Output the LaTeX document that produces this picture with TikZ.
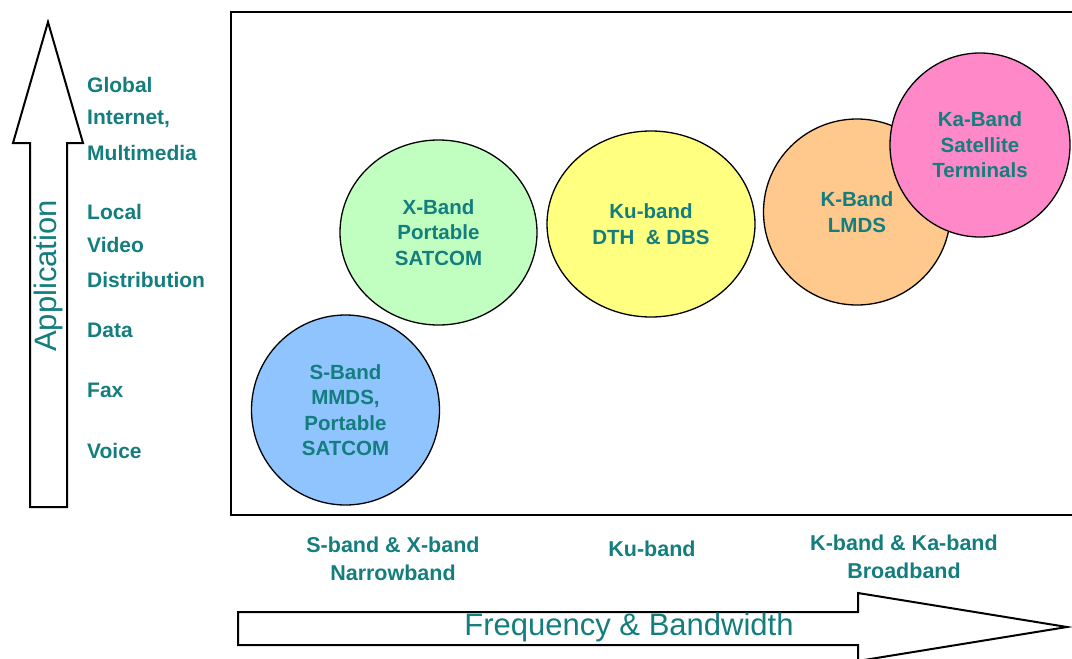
\documentclass[tikz,border=0pt]{standalone}
\usepackage{fontspec}
\setmainfont{Liberation Sans}
\usetikzlibrary{shapes.geometric}
\definecolor{tealtxt}{RGB}{20,125,125}
\definecolor{sblue}{RGB}{143,196,255}
\definecolor{xgreen}{RGB}{192,255,192}
\definecolor{kuyellow}{RGB}{255,255,128}
\definecolor{korange}{RGB}{255,200,140}
\definecolor{kapink}{RGB}{255,136,200}
\tikzset{
  band/.style={ellipse, draw=black, line width=1.3pt, inner sep=0pt, align=center,
    text=tealtxt, font=\fontsize{20.5}{25.5}\selectfont\bfseries},
  applbl/.style={anchor=west, text=tealtxt, font=\fontsize{21}{23}\selectfont\bfseries, inner sep=0pt},
  freqlbl/.style={align=center, text=tealtxt, font=\fontsize{21.5}{28}\selectfont\bfseries, inner sep=0pt},
  bigarrow/.style={draw=black, line width=2pt, fill=white, line join=miter},
  frameline/.style={draw=black, line width=2pt}
}
\begin{document}
\begin{tikzpicture}[x=1pt,y=-1pt]
\useasboundingbox (0,0) rectangle (1072,659);
% frame
\draw[frameline] (1075,12) -- (231,12) -- (231,515) -- (1075,515);
% up arrow
\draw[bigarrow] (30,507) -- (30,143) -- (13,143) -- (48,22) -- (83,143) -- (67,143) -- (67,507) -- cycle;
\node[rotate=90, text=tealtxt, font=\fontsize{31}{34}\selectfont, inner sep=0pt] (appl) at (48,276) {Application};
% right arrow
\draw[bigarrow] (238,612) -- (858,612) -- (858,593) -- (1067,627) -- (858,661) -- (858,645) -- (238,645) -- cycle;
\node[text=tealtxt, font=\fontsize{31}{34}\selectfont, inner sep=0pt] (freq) at (629,627) {Frequency \& Bandwidth};
% application labels
\node[applbl] (l1) at (87,85) {Global};
\node[applbl] (l2) at (87,119) {Internet,};
\node[applbl] (l3) at (87,153) {Multimedia};
\node[applbl] (l4) at (87,212) {Local};
\node[applbl] (l5) at (87,245) {Video};
\node[applbl] (l6) at (87,280) {Distribution};
\node[applbl] (l7) at (87,330) {Data};
\node[applbl] (l8) at (87,390) {Fax};
\node[applbl] (l9) at (87,451) {Voice};
% frequency labels
\node[freqlbl] (f1) at (393,559) {S-band \& X-band\\Narrowband};
\node[freqlbl] (f2) at (652,549) {Ku-band};
\node[freqlbl] (f3) at (904,557) {K-band \& Ka-band\\Broadband};
% circles
\node[band, fill=sblue, minimum width=188pt, minimum height=190pt] (s) at (345.5,410) {S-Band\\MMDS,\\Portable\\SATCOM};
\node[band, fill=xgreen, minimum width=197pt, minimum height=185pt] (x) at (438.5,232.5) {X-Band\\Portable\\SATCOM};
\node[band, fill=kuyellow, minimum width=208pt, minimum height=186pt] (ku) at (651,224) {Ku-band\\DTH \ \& DBS};
\node[band, fill=korange, minimum width=187pt, minimum height=186pt] (k) at (857,212) {K-Band\\LMDS};
\node[band, fill=kapink, minimum width=180pt, minimum height=184pt] (ka) at (980,145) {Ka-Band\\Satellite\\Terminals};
\end{tikzpicture}
\end{document}
